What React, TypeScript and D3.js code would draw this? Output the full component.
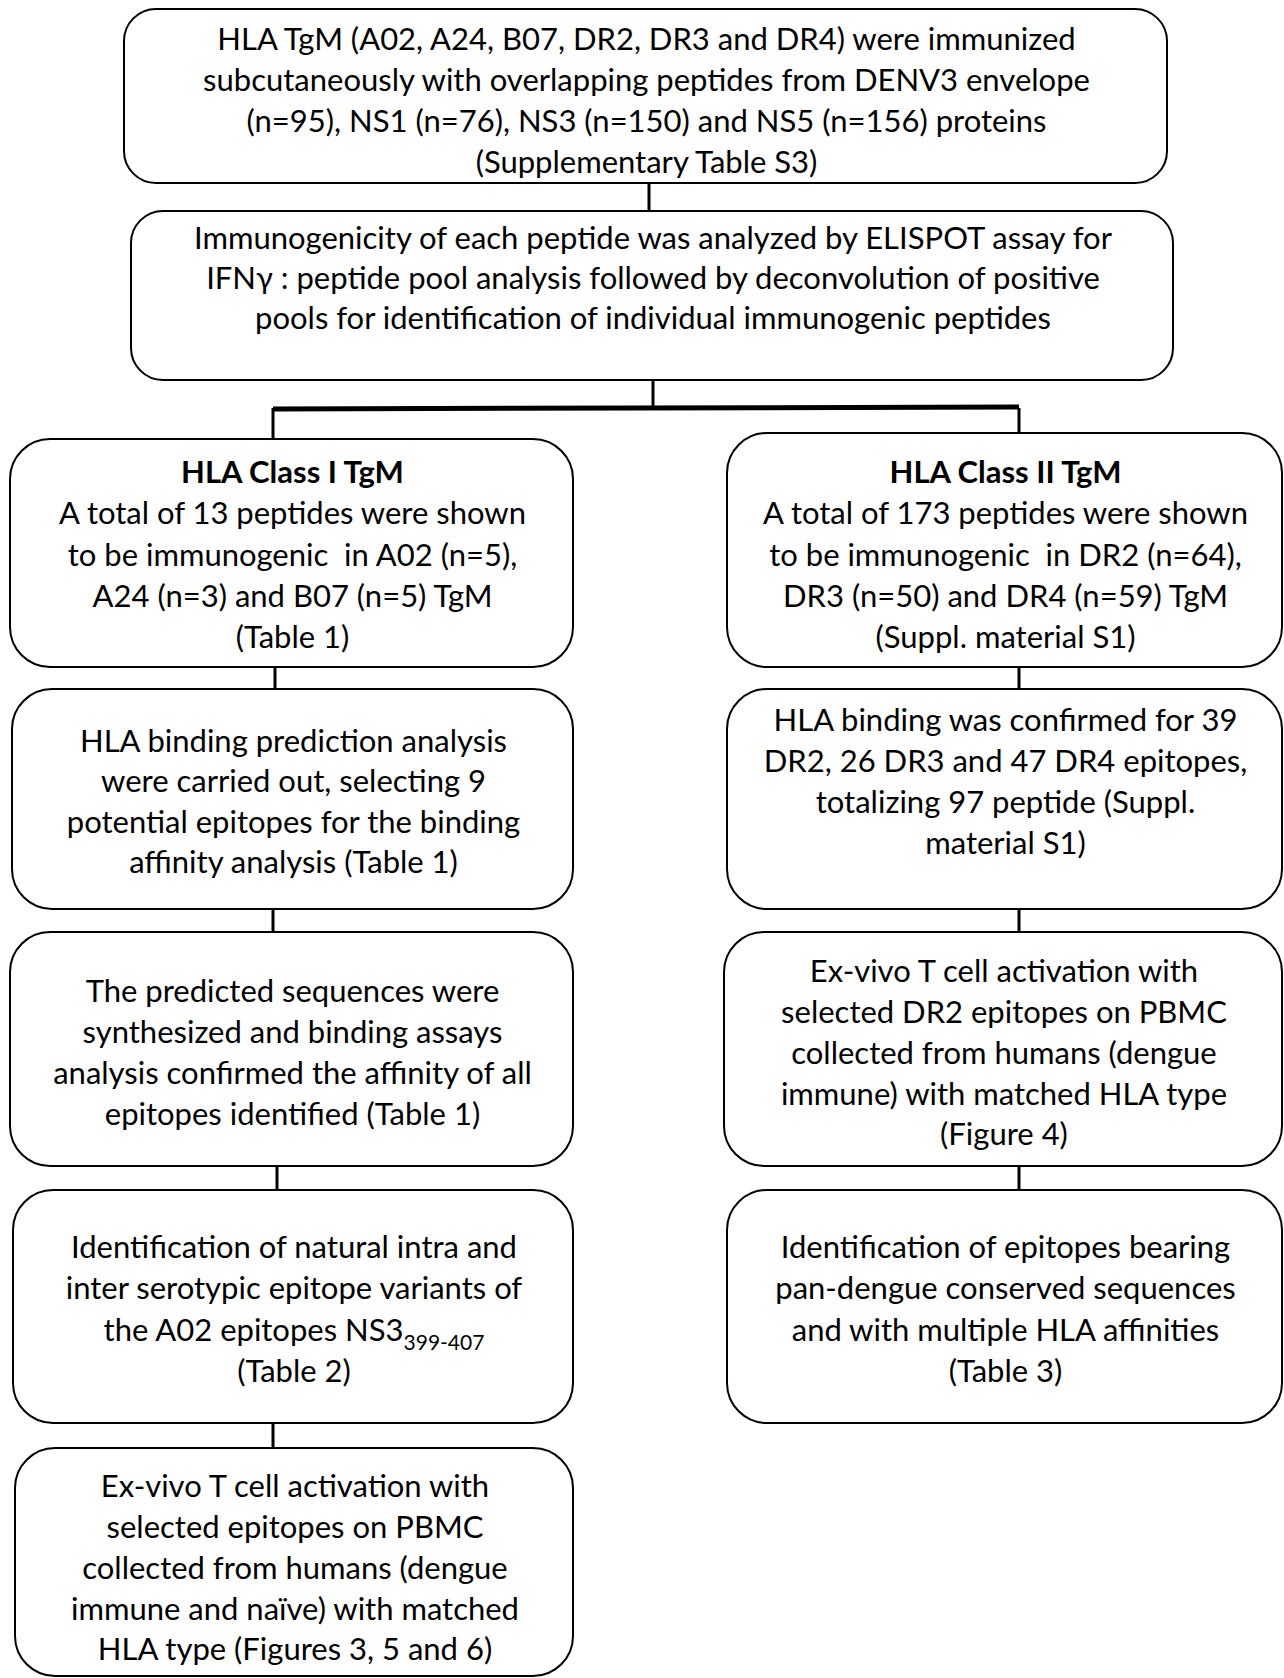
import React from 'react';
import * as d3 from 'd3';

// box texts, one array per box
const topLines = [
  'HLA TgM (A02, A24, B07, DR2, DR3 and DR4) were immunized',
  'subcutaneously with overlapping peptides from DENV3 envelope',
  '(n=95), NS1 (n=76), NS3 (n=150) and NS5 (n=156) proteins',
  '(Supplementary Table S3)',
];
const elispotLines = [
  'Immunogenicity of each peptide was analyzed by ELISPOT assay for',
  'IFNγ : peptide pool analysis followed by deconvolution of positive',
  'pools for identification of individual immunogenic peptides',
];
const classILines = [
  'HLA Class I TgM',
  'A total of 13 peptides were shown',
  'to be immunogenic  in A02 (n=5),',
  'A24 (n=3) and B07 (n=5) TgM',
  '(Table 1)',
];
const classIILines = [
  'HLA Class II TgM',
  'A total of 173 peptides were shown',
  'to be immunogenic  in DR2 (n=64),',
  'DR3 (n=50) and DR4 (n=59) TgM',
  '(Suppl. material S1)',
];
const predictionLines = [
  'HLA binding prediction analysis',
  'were carried out, selecting 9',
  'potential epitopes for the binding',
  'affinity analysis (Table 1)',
];
const bindingIILines = [
  'HLA binding was confirmed for 39',
  'DR2, 26 DR3 and 47 DR4 epitopes,',
  'totalizing 97 peptide (Suppl.',
  'material S1)',
];
const synthLines = [
  'The predicted sequences were',
  'synthesized and binding assays',
  'analysis confirmed the affinity of all',
  'epitopes identified (Table 1)',
];
const exvivoIILines = [
  'Ex-vivo T cell activation with',
  'selected DR2 epitopes on PBMC',
  'collected from humans (dengue',
  'immune) with matched HLA type',
  '(Figure 4)',
];
const variantLines = [
  'Identification of natural intra and',
  'inter serotypic epitope variants of',
  'the A02 epitopes NS3|399-407',
  '(Table 2)',
];
const panDengueLines = [
  'Identification of epitopes bearing',
  'pan-dengue conserved sequences',
  'and with multiple HLA affinities',
  '(Table 3)',
];
const exvivoILines = [
  'Ex-vivo T cell activation with',
  'selected epitopes on PBMC',
  'collected from humans (dengue',
  'immune and naïve) with matched',
  'HLA type (Figures 3, 5 and 6)',
];

const FONT = "Lato, 'Open Sans', sans-serif";
const FS = 31;

interface Box {
  x0: number; x1: number; y0: number; y1: number;
  lines: string[]; first: number; step: number; boldFirst?: boolean; r: number;
}

const boxes: Box[] = [
  { x0: 124, x1: 1167, y0: 9, y1: 183, lines: topLines, first: 39, step: 41, r: 32 },
  { x0: 131, x1: 1173, y0: 211, y1: 380, lines: elispotLines, first: 238, step: 40, r: 32 },
  { x0: 10, x1: 573, y0: 439, y1: 667, lines: classILines, first: 472, step: 41.3, boldFirst: true, r: 40 },
  { x0: 727, x1: 1282, y0: 433, y1: 667, lines: classIILines, first: 472, step: 41.3, boldFirst: true, r: 40 },
  { x0: 12, x1: 573, y0: 689, y1: 909, lines: predictionLines, first: 741, step: 40.3, r: 40 },
  { x0: 727, x1: 1282, y0: 689, y1: 909, lines: bindingIILines, first: 720, step: 41, r: 40 },
  { x0: 10, x1: 573, y0: 932, y1: 1166, lines: synthLines, first: 991, step: 41, r: 40 },
  { x0: 724, x1: 1282, y0: 932, y1: 1166, lines: exvivoIILines, first: 971, step: 40.8, r: 40 },
  { x0: 13, x1: 573, y0: 1190, y1: 1423, lines: variantLines, first: 1247, step: 41.3, r: 40 },
  { x0: 727, x1: 1282, y0: 1190, y1: 1423, lines: panDengueLines, first: 1247, step: 41.3, r: 40 },
  { x0: 15, x1: 573, y0: 1448, y1: 1676, lines: exvivoILines, first: 1486, step: 40.8, r: 40 },
];

// connectors [x, yStart, yEnd, width]
const verticals: [number, number, number, number][] = [
  [649, 183, 211, 3],
  [653, 380, 408, 3],
  [273, 408, 439, 3],
  [1019, 408, 433, 3],
  [275, 667, 689, 3],
  [1019, 667, 689, 3],
  [273, 909, 932, 3],
  [1019, 909, 932, 3],
  [277, 1166, 1190, 3],
  [1019, 1166, 1190, 3],
  [273, 1423, 1448, 3],
];

const renderLine = (line: string) => {
  if (line.includes('|')) {
    const [main, sub] = line.split('|');
    return (
      <>
        {main}
        <tspan fontSize={21} dy={9}>{sub}</tspan>
      </>
    );
  }
  return line;
};

const App: React.FC = () => {
  const W = 1284;
  const H = 1678;
  const bar = d3.line()([[273, 409], [1019, 407]]) || '';
  return (
    <svg width={W} height={H} style={{ position: 'absolute', left: 0, top: 0, background: '#fff' }}
      fontFamily={FONT}>
      <rect width={W} height={H} fill="#fff" />
      {verticals.map(([x, a, b, w], i) => (
        <line key={i} x1={x} x2={x} y1={a} y2={b} stroke="#000" strokeWidth={w} />
      ))}
      <path d={bar} stroke="#000" strokeWidth={5} fill="none" />
      {boxes.map((b, i) => (
        <g key={i}>
          <rect x={b.x0} y={b.y0} width={b.x1 - b.x0} height={b.y1 - b.y0} rx={b.r} ry={b.r}
            fill="#fff" stroke="#000" strokeWidth={2} />
          {b.lines.map((l, j) => (
            <text key={j} x={(b.x0 + b.x1) / 2 + 1} y={b.first + j * b.step + FS * 0.36}
              textAnchor="middle" fontSize={FS} fill="#000" style={{ whiteSpace: 'pre' }}
              fontWeight={b.boldFirst && j === 0 ? 700 : 400}>
              {renderLine(l)}
            </text>
          ))}
        </g>
      ))}
    </svg>
  );
};

export default App;
